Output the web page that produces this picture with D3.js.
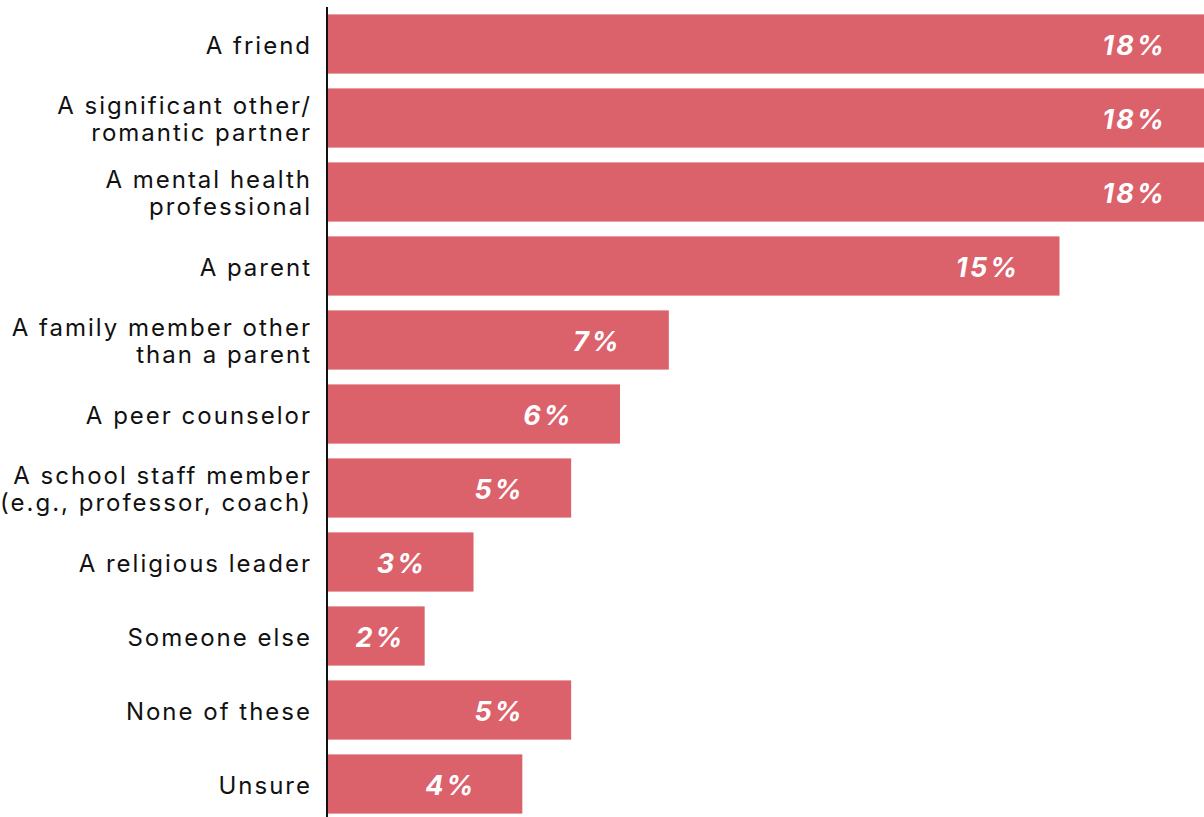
<!DOCTYPE html>
<html>
<head>
<meta charset="utf-8">
<script src="https://cdn.jsdelivr.net/npm/d3@7"></script>
<style>
  html, body { margin: 0; padding: 0; background: #fff; }
  svg { display: block; }
  .cat { font-family: Inter, "Noto Sans", sans-serif; font-size: 24px; letter-spacing: 2px; fill: #111; }
  .val { font-family: Inter, "Noto Sans", sans-serif; font-size: 27px; font-weight: 700; font-style: italic; letter-spacing: 2.5px; fill: #fff; }
</style>
</head>
<body>
<script>
// Who respondents would turn to (share of respondents, %)
const categories = [
  ["A friend"],
  ["A significant other/", "romantic partner"],
  ["A mental health", "professional"],
  ["A parent"],
  ["A family member other", "than a parent"],
  ["A peer counselor"],
  ["A school staff member", "(e.g., professor, coach)"],
  ["A religious leader"],
  ["Someone else"],
  ["None of these"],
  ["Unsure"]
];
const values = [18, 18, 18, 15, 7, 6, 5, 3, 2, 5, 4];
const valueLabels = values.map(v => v + "%");

const W = 1204, H = 817;
const x0 = 327;

const svg = d3.select("body").append("svg")
  .attr("width", W).attr("height", H);

const keys = categories.map((c, i) => i);
const y = d3.scaleBand().domain(keys).range([7, 821])
  .paddingInner(0.2).paddingOuter(0.1);
const x = d3.scaleLinear().domain([0, 18]).range([x0, 1206]);

// bars
svg.append("g").selectAll("rect")
  .data(values)
  .join("rect")
  .attr("x", x(0))
  .attr("y", (d, i) => y(i))
  .attr("width", d => x(d) - x(0))
  .attr("height", y.bandwidth())
  .attr("fill", "#DB616B");

// value labels inside bar ends (centred a fixed distance from the bar end)
svg.append("g").selectAll("text")
  .data(values)
  .join("text")
  .attr("class", "val")
  .attr("text-anchor", "middle")
  .attr("x", d => Math.max(x(d) - 73, x(0) + 52) + 1.25)
  .attr("y", (d, i) => y(i) + y.bandwidth() / 2)
  .attr("dy", "0.42em")
  .text((d, i) => valueLabels[i]);

// category labels
const lh = 27;
const cat = svg.append("g").selectAll("text")
  .data(categories)
  .join("text")
  .attr("class", "cat")
  .attr("text-anchor", "end")
  .attr("y", (d, i) => y(i) + y.bandwidth() / 2 + 1);
cat.selectAll("tspan")
  .data(d => d.map((t, j) => ({ t, j, n: d.length })))
  .join("tspan")
  .attr("x", 312)
  .attr("dy", d => d.j === 0 ? ((-(d.n - 1) / 2) * lh / 24 + 0.36) + "em" : (lh / 24) + "em")
  .text(d => d.t);

// baseline axis
svg.append("line")
  .attr("x1", x0).attr("x2", x0)
  .attr("y1", 7).attr("y2", H)
  .attr("stroke", "#111").attr("stroke-width", 2);
</script>
</body>
</html>
